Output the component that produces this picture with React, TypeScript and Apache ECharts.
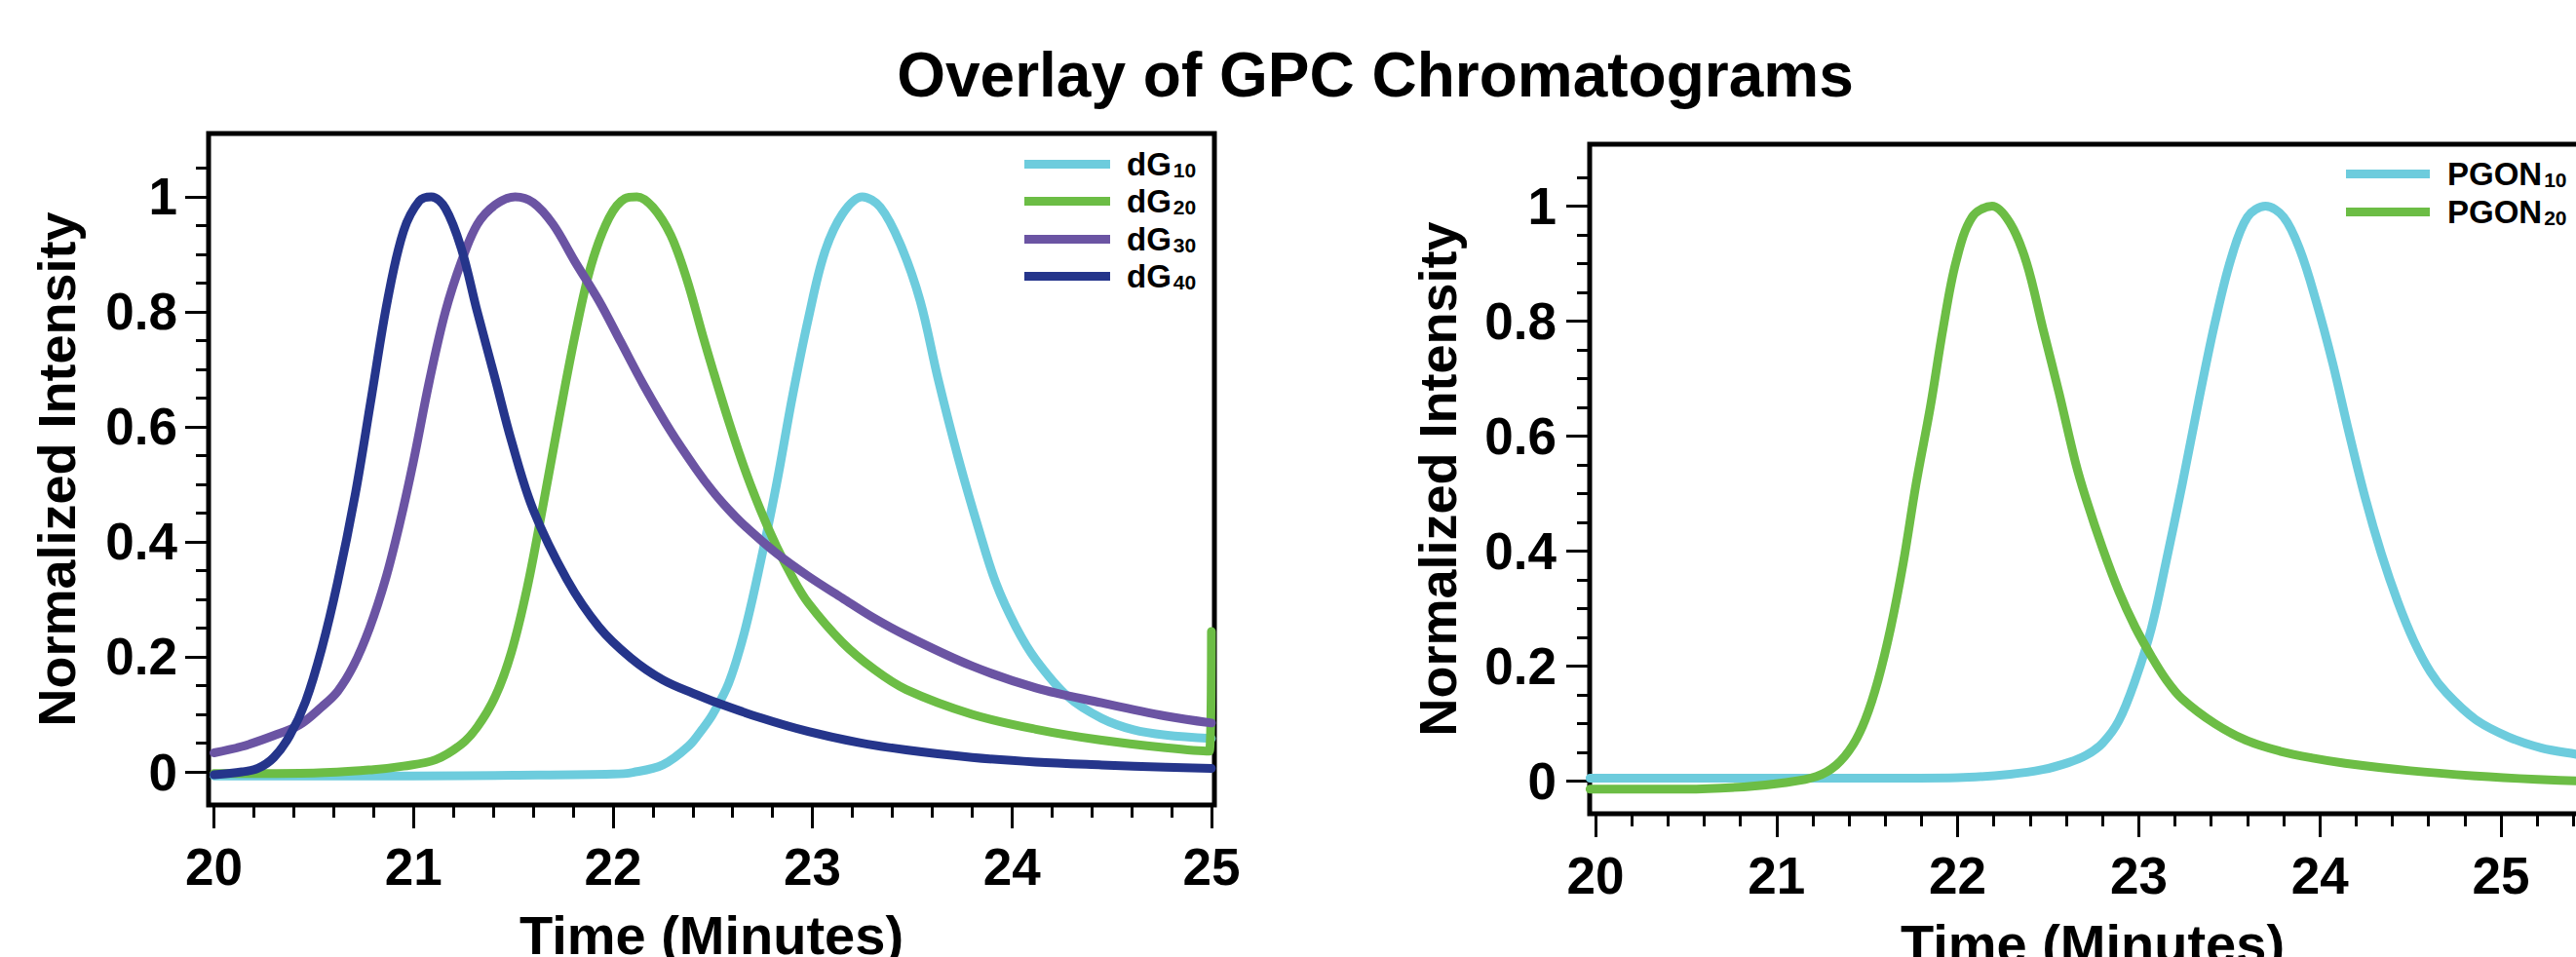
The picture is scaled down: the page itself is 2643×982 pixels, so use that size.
import React, { useEffect, useRef } from "react";
import * as echarts from "echarts";

// ---------- data ----------
const chartTitle = "Overlay of GPC Chromatograms";
const xTitle = "Time (Minutes)";
const yTitle = "Normalized Intensity";

const xMajorTicks = [20, 21, 22, 23, 24, 25];
const xMinorTicksLeft = [20, 20.2, 20.4, 20.6, 20.8, 21, 21.2, 21.4, 21.6, 21.8, 22, 22.2, 22.4, 22.6, 22.8, 23, 23.2, 23.4, 23.6, 23.8, 24, 24.2, 24.4, 24.6, 24.8, 25];
const xMinorTicksRight = [20, 20.2, 20.4, 20.6, 20.8, 21, 21.2, 21.4, 21.6, 21.8, 22, 22.2, 22.4, 22.6, 22.8, 23, 23.2, 23.4, 23.6, 23.8, 24, 24.2, 24.4, 24.6, 24.8, 25, 25.2, 25.4];
const yMajorTicks = [0, 0.2, 0.4, 0.6, 0.8, 1];
const yMinorTicks = [0, 0.05, 0.1, 0.15, 0.2, 0.25, 0.3, 0.35, 0.4, 0.45, 0.5, 0.55, 0.6, 0.65, 0.7, 0.75, 0.8, 0.85, 0.9, 0.95, 1, 1.05];

const leftNames = ["dG10", "dG20", "dG30", "dG40"];
const rightNames = ["PGON10", "PGON20"];

const dG10 = [
  [20.0, -0.007], [20.5, -0.007], [21.0, -0.007], [21.5, -0.006], [22.0, -0.004], [22.1, -0.001],
  [22.25, 0.012], [22.38, 0.045], [22.45, 0.075], [22.5, 0.1], [22.58, 0.154], [22.66, 0.244],
  [22.74, 0.365], [22.82, 0.5], [22.9, 0.653], [22.98, 0.789], [23.06, 0.902], [23.15, 0.97],
  [23.25, 1.0], [23.34, 0.982], [23.44, 0.918], [23.54, 0.819], [23.63, 0.683], [23.73, 0.547],
  [23.83, 0.426], [23.92, 0.328], [24.02, 0.252], [24.12, 0.195], [24.28, 0.131], [24.45, 0.093],
  [24.61, 0.073], [24.77, 0.064], [25.0, 0.058],
];
const dG20 = [
  [20.0, -0.003], [20.5, -0.002], [20.8, 0.004], [20.95, 0.01], [21.11, 0.021], [21.24, 0.048],
  [21.32, 0.078], [21.41, 0.131], [21.49, 0.207], [21.57, 0.32], [21.65, 0.464], [21.73, 0.615],
  [21.81, 0.759], [21.89, 0.88], [21.98, 0.963], [22.06, 0.997], [22.12, 1.0], [22.2, 0.982],
  [22.29, 0.933], [22.37, 0.857], [22.45, 0.759], [22.5, 0.7], [22.58, 0.61], [22.66, 0.527],
  [22.74, 0.455], [22.82, 0.392], [22.9, 0.338], [22.98, 0.293], [23.15, 0.225], [23.31, 0.178],
  [23.47, 0.143], [23.8, 0.1], [24.12, 0.074], [24.45, 0.055], [24.77, 0.042], [24.99, 0.036],
  [25.0, 0.244],
];
const dG30 = [
  [20.0, 0.033], [20.14, 0.044], [20.3, 0.063], [20.43, 0.082], [20.54, 0.113], [20.62, 0.14],
  [20.7, 0.185], [20.78, 0.25], [20.86, 0.335], [20.93, 0.43], [21.0, 0.54], [21.08, 0.68],
  [21.16, 0.8], [21.24, 0.887], [21.32, 0.952], [21.41, 0.986], [21.51, 1.0], [21.6, 0.99],
  [21.7, 0.952], [21.81, 0.887], [21.93, 0.819], [22.04, 0.747], [22.15, 0.675], [22.29, 0.592],
  [22.42, 0.525], [22.5, 0.488], [22.58, 0.456], [22.66, 0.428], [22.82, 0.38], [22.98, 0.34],
  [23.15, 0.302], [23.31, 0.267], [23.47, 0.237], [23.8, 0.184], [24.12, 0.146], [24.45, 0.12],
  [24.77, 0.097], [25.0, 0.085],
];
const dG40 = [
  [20.0, -0.005], [20.14, 0.0], [20.22, 0.006], [20.3, 0.025], [20.38, 0.063], [20.46, 0.123],
  [20.54, 0.214], [20.62, 0.33], [20.71, 0.486], [20.79, 0.653], [20.87, 0.82], [20.95, 0.94],
  [21.03, 0.993], [21.09, 1.0], [21.16, 0.98], [21.24, 0.91], [21.32, 0.8], [21.41, 0.683],
  [21.49, 0.577], [21.6, 0.456], [21.77, 0.334], [21.93, 0.252], [22.09, 0.198], [22.25, 0.16],
  [22.42, 0.134], [22.5, 0.123], [22.74, 0.094], [22.98, 0.07], [23.23, 0.051], [23.47, 0.038],
  [23.8, 0.025], [24.12, 0.017], [24.45, 0.012], [24.77, 0.008], [25.0, 0.006],
];
const PGON10 = [
  [19.97, 0.005], [20.5, 0.005], [21.0, 0.005], [21.5, 0.005], [22.0, 0.006], [22.29, 0.012],
  [22.47, 0.02], [22.61, 0.032], [22.71, 0.045], [22.8, 0.066], [22.89, 0.105], [22.98, 0.175],
  [23.07, 0.266], [23.15, 0.38], [23.24, 0.516], [23.33, 0.66], [23.42, 0.796], [23.51, 0.909],
  [23.6, 0.981], [23.7, 1.0], [23.8, 0.981], [23.89, 0.924], [23.98, 0.834], [24.07, 0.728],
  [24.16, 0.607], [24.25, 0.493], [24.34, 0.395], [24.43, 0.312], [24.52, 0.243], [24.61, 0.19],
  [24.7, 0.153], [24.86, 0.107], [25.04, 0.077], [25.22, 0.058], [25.41, 0.047], [25.52, 0.042],
];
const PGON20 = [
  [19.97, -0.014], [20.5, -0.014], [20.82, -0.01], [21.04, -0.003], [21.22, 0.008], [21.33, 0.028],
  [21.42, 0.062], [21.49, 0.107], [21.56, 0.175], [21.63, 0.266], [21.7, 0.38], [21.77, 0.516],
  [21.85, 0.652], [21.92, 0.788], [21.99, 0.902], [22.08, 0.981], [22.19, 1.0], [22.29, 0.97],
  [22.38, 0.902], [22.47, 0.788], [22.56, 0.675], [22.65, 0.555], [22.71, 0.49], [22.8, 0.405],
  [22.89, 0.33], [22.98, 0.268], [23.07, 0.217], [23.15, 0.177], [23.24, 0.143], [23.42, 0.1],
  [23.6, 0.07], [23.78, 0.052], [23.96, 0.04], [24.14, 0.031], [24.5, 0.018], [24.86, 0.009],
  [25.2, 0.003], [25.52, -0.001],
];

// ---------- styles ----------
const FONT = "'Liberation Sans', Arial, Helvetica, sans-serif";
const COLORS: Record<string, string> = {
  dG10: "#6dccdd",
  dG20: "#6cbd45",
  dG30: "#6b54a3",
  dG40: "#25358b",
  PGON10: "#6dccdd",
  PGON20: "#6cbd45",
};

function xAxes(gridIndex: number, min: number, max: number, minor: number[]) {
  const base = {
    type: "value",
    gridIndex,
    min,
    max,
    position: "bottom",
    axisLine: { show: false, onZero: false },
    splitLine: { show: false },
    axisPointer: { show: false },
  };
  return [
    {
      ...base,
      axisTick: { show: true, inside: false, customValues: xMajorTicks, length: 24, lineStyle: { color: "#000", width: 3 } },
      axisLabel: {
        show: true,
        customValues: xMajorTicks,
        margin: 37,
        fontSize: 53,
        fontWeight: "bold",
        color: "#000",
        fontFamily: FONT,
      },
      name: xTitle,
      nameLocation: "middle",
      nameGap: 105,
      nameTextStyle: { fontSize: 56, fontWeight: "bold", color: "#000", fontFamily: FONT },
    },
    {
      ...base,
      axisTick: { show: true, inside: false, customValues: minor, length: 13, lineStyle: { color: "#000", width: 3 } },
      axisLabel: { show: false },
    },
  ];
}

function yAxes(gridIndex: number, min: number, max: number, labelMargin: number) {
  const base = {
    type: "value",
    gridIndex,
    min,
    max,
    position: "left",
    axisLine: { show: false, onZero: false },
    splitLine: { show: false },
    axisPointer: { show: false },
  };
  return [
    {
      ...base,
      axisTick: { show: true, inside: false, customValues: yMajorTicks, length: 24, lineStyle: { color: "#000", width: 3 } },
      axisLabel: {
        show: true,
        customValues: yMajorTicks,
        margin: labelMargin,
        fontSize: 53,
        fontWeight: "bold",
        color: "#000",
        fontFamily: FONT,
      },
      name: yTitle,
      nameLocation: "middle",
      nameGap: 129,
      nameTextStyle: { fontSize: 54, fontWeight: "bold", color: "#000", fontFamily: FONT },
    },
    {
      ...base,
      axisTick: { show: true, inside: false, customValues: yMinorTicks, length: 13, lineStyle: { color: "#000", width: 3 } },
      axisLabel: { show: false },
    },
  ];
}

function lineSeries(name: string, data: number[][], gridIndex: number) {
  const color = COLORS[name];
  return {
    type: "line",
    name,
    data,
    xAxisIndex: gridIndex * 2,
    yAxisIndex: gridIndex * 2,
    showSymbol: false,
    symbol: "none",
    smooth: 0.35,
    clip: true,
    silent: true,
    lineStyle: { color, width: 9, cap: "round", join: "round" },
    itemStyle: { color },
  };
}

function legendFormatter(name: string) {
  const m = name.match(/^(\D+)(\d+)$/);
  if (!m) return name;
  return `{m|${m[1]}}{s|${m[2]}}`;
}

// one legend block per row, so that every row sits where the reference has it
function legendRows(names: string[], left: number, firstCenter: number, pitch: number, width: number, pad: number) {
  return names.map((name, i) => ({
    data: [name],
    orient: "vertical",
    left,
    top: Math.round(firstCenter + i * pitch - 16),
    padding: 0,
    itemWidth: width,
    itemHeight: 9,
    icon: "rect",
    selectedMode: false,
    itemStyle: { borderWidth: 0 },
    formatter: legendFormatter,
    textStyle: {
      color: "#000",
      fontFamily: FONT,
      fontWeight: "bold",
      rich: {
        m: { fontSize: 33, fontWeight: "bold", fontFamily: FONT, color: "#000", verticalAlign: "bottom", padding: [0, 0, 0, pad] },
        s: { fontSize: 21, fontWeight: "bold", fontFamily: FONT, color: "#000", verticalAlign: "bottom", padding: [0, 0, 0, 2] },
      },
    },
  }));
}

const gridBase = {
  show: true,
  borderColor: "#000",
  borderWidth: 5,
  backgroundColor: "transparent",
  containLabel: false,
  outerBoundsMode: "none",
};

export default function App() {
  const ref = useRef<HTMLDivElement>(null);

  useEffect(() => {
    if (!ref.current) return;
    const chart = echarts.init(ref.current, undefined, { renderer: "svg" });
    const option = {
      animation: false,
      backgroundColor: "#ffffff",
      title: {
        text: chartTitle,
        left: 1411,
        top: 45,
        padding: 0,
        textAlign: "center",
        textStyle: { fontSize: 64, fontWeight: "bold", color: "#000", fontFamily: FONT },
      },
      grid: [
        { ...gridBase, left: 214, top: 137, width: 1032, height: 689 },
        { ...gridBase, left: 1631, top: 148, width: 1032, height: 687 },
      ],
      xAxis: [...xAxes(0, 19.973, 25.015, xMinorTicksLeft), ...xAxes(1, 19.968, 25.522, xMinorTicksRight)],
      yAxis: [...yAxes(0, -0.0576, 1.11, 32), ...yAxes(1, -0.0568, 1.1076, 34)],
      legend: [
        ...legendRows(leftNames, 1051, 168, 38.3, 88, 12),
        ...legendRows(rightNames, 2407, 178, 39, 86, 13),
      ],
      series: [
        lineSeries("dG10", dG10, 0),
        lineSeries("dG20", dG20, 0),
        lineSeries("dG30", dG30, 0),
        lineSeries("dG40", dG40, 0),
        lineSeries("PGON10", PGON10, 1),
        lineSeries("PGON20", PGON20, 1),
      ],
    };
    chart.setOption(option as any);
    return () => chart.dispose();
  }, []);

  return (
    <div
      ref={ref}
      style={{ position: "fixed", left: 0, top: 0, width: 2643, height: 982, background: "#fff" }}
    />
  );
}
